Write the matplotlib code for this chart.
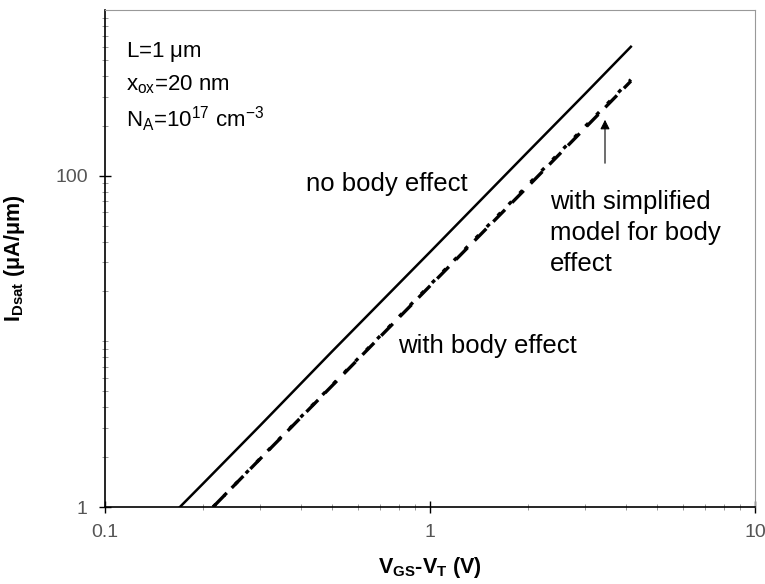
import matplotlib.pyplot as plt
from matplotlib.ticker import FixedLocator, NullFormatter

plt.rcParams['font.family'] = ['Liberation Sans', 'DejaVu Sans']

# values
vgs = [0.17, 0.2, 0.3, 0.5, 1.0, 2.0, 3.0, 4.15]
ids_no_body = [1.0, 1.38, 3.1, 8.7, 34.6, 139, 312, 600]
vgs_body = [0.215, 0.3, 0.5, 1.0, 2.0, 3.0, 4.15]
ids_body = [1.0, 1.95, 5.4, 21.6, 86, 194, 372]
ids_simple = [1.0, 1.96, 5.45, 21.9, 88, 198, 380]

W, H = 765, 584


def px(x, y):
    # pixel position in the picture -> figure fraction
    return x / W, 1 - y / H


fig = plt.figure(figsize=(W / 100, H / 100), dpi=100)
ax = fig.add_axes([105 / W, 1 - 507 / H, 650 / W, 497 / H])

ax.plot(vgs, ids_no_body, color='black', lw=1.8)
ax.plot(vgs_body, ids_body, color='black', lw=2.4, ls=(0, (5, 3)))
ax.plot(vgs_body, ids_simple, color='black', lw=2.4, ls=(0, (1.2, 3.5)))

ax.set_xscale('log')
ax.set_yscale('log')
ax.set_xlim(0.1, 10)
ax.set_ylim(1, 1000)

ax.xaxis.set_major_locator(FixedLocator([0.1, 1, 10]))
ax.set_xticklabels(['0.1', '1', '10'])
ax.xaxis.set_minor_locator(FixedLocator(
    [m * 10.0 ** k for k in (-1, 0) for m in range(2, 10)]))
ax.yaxis.set_major_locator(FixedLocator([1, 100]))
ax.set_yticklabels(['1', '100'])
ax.yaxis.set_minor_locator(FixedLocator(
    [m * 10.0 ** k for k in (0, 1, 2) for m in range(2, 10)] + [10]))
ax.xaxis.set_minor_formatter(NullFormatter())
ax.yaxis.set_minor_formatter(NullFormatter())

ax.tick_params(which='major', direction='inout', length=9, width=1,
               labelsize=14, labelcolor='#555555', pad=8)
ax.tick_params(which='minor', direction='inout', length=5, width=0.6,
               color='#888888')

for s in ('top', 'right'):
    ax.spines[s].set_color('#999999')
    ax.spines[s].set_linewidth(0.8)
for s in ('left', 'bottom'):
    ax.spines[s].set_linewidth(1.2)

ax.set_xlabel(r'V$_{\mathregular{GS}}$-V$_{\mathregular{T}}$ (V)',
              fontsize=15.5, fontweight='bold', labelpad=10)
ax.set_ylabel(r'I$_{\mathregular{Dsat}}$ ($\mathregular{\mu}$A/$\mathregular{\mu}$m)',
              fontsize=15.5, fontweight='bold', labelpad=20)

ax.text(*px(126, 52), r'L=1 $\mathregular{\mu}$m', transform=fig.transFigure,
        fontsize=16, va='center')
ax.text(*px(126, 85), r'x$_{\mathregular{ox}}$=20 nm', transform=fig.transFigure,
        fontsize=16, va='center')
ax.text(*px(126, 119), r'N$_{\mathregular{A}}$=10$^{\mathregular{17}}$ cm$^{\mathregular{-3}}$',
        transform=fig.transFigure, fontsize=16, va='center')

ax.text(*px(306, 184), 'no body effect', transform=fig.transFigure,
        fontsize=18.5, va='center')
ax.text(*px(398, 346), 'with body effect', transform=fig.transFigure,
        fontsize=18.5, va='center')
ax.text(*px(550, 233), 'with simplified\nmodel for body\neffect',
        transform=fig.transFigure, fontsize=18.5, va='center', linespacing=1.38)
ax.annotate('', xy=px(605, 117), xytext=px(605, 166),
            xycoords='figure fraction', textcoords='figure fraction',
            arrowprops=dict(arrowstyle='-|>', color='black', lw=0.8,
                            mutation_scale=14))

fig.savefig('out.png', dpi=100)
